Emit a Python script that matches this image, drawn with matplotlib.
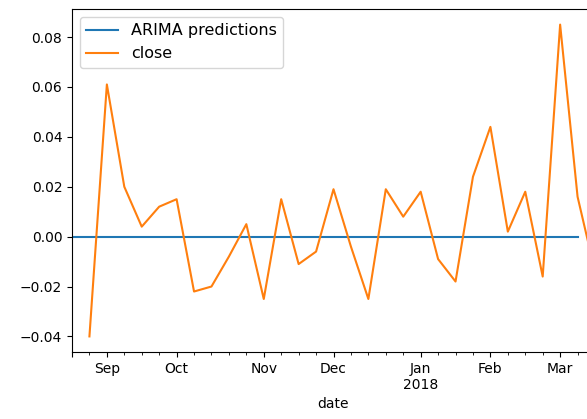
import pandas as pd
import matplotlib
matplotlib.use("Agg")
import matplotlib.pyplot as plt

# weekly index (week ending Sunday)
weeks = pd.date_range("2017-08-20", "2018-03-18", freq="W-SUN")

# model output, flat at zero, week of Aug 20 .. week of Mar 11
arima_pred = [0.0, 0.0, 0.0, 0.0, 0.0, 0.0, 0.0, 0.0, 0.0, 0.0,
              0.0, 0.0, 0.0, 0.0, 0.0, 0.0, 0.0, 0.0, 0.0, 0.0,
              0.0, 0.0, 0.0, 0.0, 0.0, 0.0, 0.0, 0.0, 0.0, 0.0]

# weekly close returns, week of Aug 27 .. week of Mar 18
close = [-0.040, 0.061, 0.020, 0.004, 0.012, 0.015, -0.022, -0.020, -0.008, 0.005,
         -0.025, 0.015, -0.011, -0.006, 0.019, -0.004, -0.025, 0.019, 0.008, 0.018,
         -0.009, -0.018, 0.024, 0.044, 0.002, 0.018, -0.016, 0.085, 0.016, -0.014]

df = pd.DataFrame(index=weeks)
df.index.name = "date"
df["ARIMA predictions"] = pd.Series(arima_pred, index=weeks[:-1])
df["close"] = pd.Series(close, index=weeks[1:])

fig = plt.figure(figsize=(5.87, 4.19), dpi=100)
ax = fig.add_axes([72 / 587, 1 - 352 / 419, 523 / 587, (352 - 9) / 419])
df.plot(ax=ax)
ax.legend(loc="upper left", fontsize=11.5)

fig.savefig("out.png", dpi=100)
